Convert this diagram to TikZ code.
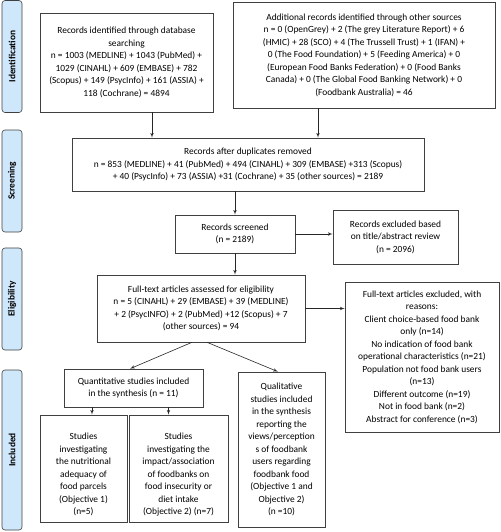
\documentclass[tikz,border=0pt]{standalone}
\usepackage{fontspec}
\setmainfont{Carlito}
\usetikzlibrary{shapes, arrows, positioning, calc}

\definecolor{phaseblue}{RGB}{207,231,250}

\begin{document}
\begin{tikzpicture}
  [x=1pt, y=-1pt,
  % box
  box/.style = {rectangle,
    draw=black!75, semithick,
    align=center, inner sep=2pt,
    font=\fontsize{9.4}{12.5}\selectfont},
  % phase label
  phase/.style = {rectangle,
    rounded corners=3pt,
    draw=black!75, semithick,
    fill=phaseblue,
    minimum height=20pt,
    rotate=90,
    font=\fontsize{9.4}{12}\selectfont\bfseries},
  % line
  line/.style = {draw=black!85, semithick, -latex'},
  ]

  \useasboundingbox (0,0) rectangle (500,532);

  % phases
  \node [phase, minimum width=112pt] (ident) at (12,56.5) {Identification};
  \node [phase, minimum width=102pt] (scrph) at (12,181) {Screening};
  \node [phase, minimum width=102pt] (eligph) at (12,299) {Eligibility};
  \node [phase, minimum width=160pt] (inclph) at (12,450) {Included};

  % nodes
  \node [box, minimum width=173pt, minimum height=99pt] (db) at (126.5,62.5)
    {Records identified through database\\ searching\\
     n = 1003 (MEDLINE) + 1043 (PubMed) +\\ 1029 (CINAHL) + 609 (EMBASE) + 782\\
     (Scopus) + 149 (PsycInfo) + 161 (ASSIA) +\\ 118 (Cochrane) = 4894};
  \node [box, minimum width=262pt, minimum height=106pt] (other) at (364,55)
    {Additional records identified through other sources\\
     n = 0 (OpenGrey) + 2 (The grey Literature Report) + 6\\
     (HMIC) + 28 (SCO) + 4 (The Trussell Trust) + 1 (IFAN) +\\
     0 (The Food Foundation) + 5 (Feeding America) + 0\\
     (European Food Banks Federation) + 0 (Food Banks\\
     Canada) + 0 (The Global Food Banking Network) + 0\\
     (Foodbank Australia) = 46};
  \node [box, minimum width=352pt, minimum height=53pt] (dup) at (248,164.5)
    {Records after duplicates removed\\
     n = 853 (MEDLINE) + 41 (PubMed) + 494 (CINAHL) + 309 (EMBASE) +313 (Scopus)\\
     + 40 (PsycInfo) + 73 (ASSIA) +31 (Cochrane) + 35 (other sources) = 2189};
  \node [box, minimum width=120pt, minimum height=38pt] (scr) at (235,234)
    {Records screened\\ (n = 2189)};
  \node [box, minimum width=125pt, minimum height=54pt] (excl) at (395.5,237)
    {Records excluded based\\ on title/abstract review\\ (n = 2096)};
  \node [box, minimum width=208pt, minimum height=67pt] (full) at (201,308.5)
    {Full-text articles assessed for eligibility\\
     n = 5 (CINAHL) + 29 (EMBASE) + 39 (MEDLINE)\\
     + 2 (PsycINFO) + 2 (PubMed) +12 (Scopus) + 7\\
     (other sources) = 94};
  \node [box, minimum width=154pt, minimum height=150pt] (fexcl) at (422,357)
    {Full-text articles excluded, with\\ reasons:\\
     Client choice-based food bank\\ only (n=14)\\
     No indication of food bank\\ operational characteristics (n=21)\\
     Population not food bank users\\ (n=13)\\
     Different outcome (n=19)\\ Not in food bank (n=2)\\
     Abstract for conference (n=3)};
  \node [box, minimum width=139pt, minimum height=38pt] (quant) at (133.5,388)
    {Quantitative studies included\\ in the synthesis (n = 11)};
  \node [box, minimum width=87pt, minimum height=155pt] (qual) at (281.5,449.5)
    {Qualitative\\ studies included\\ in the synthesis\\ reporting the\\
     views/perception\\ s of foodbank\\ users regarding\\ foodbank food\\
     (Objective 1 and\\ Objective 2)\\ (n =10)};
  \node [box, minimum width=87pt, minimum height=107pt] (nutr) at (83.5,468.5)
    {\mbox{}\\[6.5pt] Studies\\ investigating\\ the nutritional\\ adequacy of\\
     food parcels\\ (Objective 1)\\ (n=5)};
  \node [box, minimum width=99pt, minimum height=107pt] (impact) at (178.5,468.5)
    {\mbox{}\\[6.5pt] Studies\\ investigating the\\ impact/association\\
     of foodbanks on\\ food insecurity or\\ diet intake\\ (Objective 2) (n=7)};

  % path
  \path [line] ([xshift=25.5pt]db.south) -- ([xshift=25.5pt]db.south |- dup.north);
  \path [line] ([xshift=-46pt]other.south) -- ([xshift=-46pt]other.south |- dup.north);
  \path [line] (scr.north |- dup.south) -- (scr.north);
  \path [line] (scr.east) -- (scr.east -| excl.west);
  \path [line] (scr.south) -- (scr.south |- full.north);
  \path [line] (full.east) -- (full.east -| fexcl.west);
  \path [line] ([xshift=-9pt]full.south) -- ([xshift=-3.5pt]quant.north);
  \path [line] ([xshift=6pt]full.south) -- ([xshift=-3.5pt]qual.north);
  \path [line] ([xshift=8.5pt]nutr.north |- quant.south) -- ([xshift=8.5pt]nutr.north);
  \path [line] ([xshift=-10pt]impact.north |- quant.south) -- ([xshift=-10pt]impact.north);

\end{tikzpicture}
\end{document}
